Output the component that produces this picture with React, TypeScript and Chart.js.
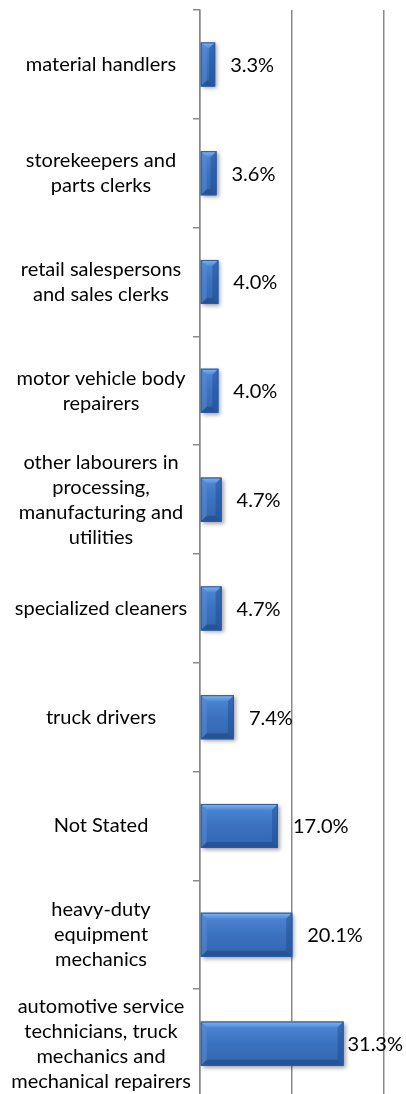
import React, { useEffect, useRef } from "react";
import { Chart, registerables } from "chart.js";

Chart.register(...registerables);

const categories: (string | string[])[] = [
  "material handlers",
  ["storekeepers and", "parts clerks"],
  ["retail salespersons", "and sales clerks"],
  ["motor vehicle body", "repairers"],
  ["other labourers in", "processing,", "manufacturing and", "utilities"],
  "specialized cleaners",
  "truck drivers",
  "Not Stated",
  ["heavy-duty", "equipment", "mechanics"],
  ["automotive service", "technicians, truck", "mechanics and", "mechanical repairers"],
];

const values: number[] = [3.3, 3.6, 4.0, 4.0, 4.7, 4.7, 7.4, 17.0, 20.1, 31.3];

const valueLabels: string[] = values.map((v) => v.toFixed(1) + "%");

const FONT_FAMILY = "Lato, 'Open Sans', sans-serif";
const FONT_SIZE = 20;
const AXIS_W = 200;
const TICK_LEN = 7;
const LABEL_CENTER = 101;

function widestLine(): number {
  const c = document.createElement("canvas");
  const ctx = c.getContext("2d")!;
  ctx.font = `${FONT_SIZE}px ${FONT_FAMILY}`;
  let w = 0;
  categories.forEach((l) => {
    (Array.isArray(l) ? l : [l]).forEach((s) => {
      w = Math.max(w, ctx.measureText(s).width);
    });
  });
  return w;
}

const shadowPlugin = {
  id: "barShadow",
  beforeDatasetsDraw(chart: any) {
    const ctx = chart.ctx;
    ctx.save();
    ctx.shadowColor = "rgba(0,0,0,0.35)";
    ctx.shadowBlur = 4;
    ctx.shadowOffsetX = 2;
    ctx.shadowOffsetY = 2;
  },
  afterDatasetsDraw(chart: any) {
    const ctx = chart.ctx;
    ctx.restore();
    const meta = chart.getDatasetMeta(0);
    meta.data.forEach((bar: any, i: number) => {
      const p = bar.getProps(["x", "y", "base", "height"], true);
      const left = Math.min(p.base, p.x);
      const right = Math.max(p.base, p.x);
      const top = p.y - p.height / 2;
      const bottom = p.y + p.height / 2;
      const b = 6;
      ctx.save();
      const g = ctx.createLinearGradient(0, top, 0, bottom);
      g.addColorStop(0, "#4f89d6");
      g.addColorStop(0.5, "#3b72c0");
      g.addColorStop(1, "#3265ad");
      ctx.fillStyle = g;
      ctx.fillRect(left, top, right - left, bottom - top);
      const gt = ctx.createLinearGradient(0, top, 0, top + b);
      gt.addColorStop(0, "#7fb6f4");
      gt.addColorStop(1, "#4f89d6");
      ctx.fillStyle = gt;
      ctx.beginPath();
      ctx.moveTo(left, top);
      ctx.lineTo(right, top);
      ctx.lineTo(right - b, top + b);
      ctx.lineTo(left + b, top + b);
      ctx.closePath();
      ctx.fill();
      ctx.fillStyle = "rgba(90,140,210,0.55)";
      ctx.beginPath();
      ctx.moveTo(left, top);
      ctx.lineTo(left + b, top + b);
      ctx.lineTo(left + b, bottom - b);
      ctx.lineTo(left, bottom);
      ctx.closePath();
      ctx.fill();
      ctx.fillStyle = "rgba(30,70,140,0.45)";
      ctx.beginPath();
      ctx.moveTo(right, top);
      ctx.lineTo(right - b, top + b);
      ctx.lineTo(right - b, bottom - b);
      ctx.lineTo(right, bottom);
      ctx.closePath();
      ctx.fill();
      ctx.fillStyle = "rgba(25,60,120,0.45)";
      ctx.beginPath();
      ctx.moveTo(left, bottom);
      ctx.lineTo(left + b, bottom - b);
      ctx.lineTo(right - b, bottom - b);
      ctx.lineTo(right, bottom);
      ctx.closePath();
      ctx.fill();
      ctx.strokeStyle = "#2d5a9a";
      ctx.lineWidth = 1;
      ctx.strokeRect(left + 0.5, top + 0.5, right - left - 1, bottom - top - 1);
      ctx.restore();

      ctx.save();
      ctx.font = `${FONT_SIZE}px ${FONT_FAMILY}`;
      ctx.fillStyle = "#000000";
      ctx.textBaseline = "middle";
      ctx.textAlign = "left";
      const txt = valueLabels[i];
      const tw = ctx.measureText(txt).width;
      const lx = Math.min(right + 15, chart.width - 3 - tw);
      ctx.fillText(txt, lx, p.y + 1);
      ctx.restore();
    });
  },
};

export default function App() {
  const ref = useRef<HTMLCanvasElement | null>(null);
  useEffect(() => {
    if (!ref.current) return;
    const widest = widestLine();
    const pad = AXIS_W - TICK_LEN - LABEL_CENTER - widest / 2;
    const chart = new Chart(ref.current, {
      type: "bar",
      data: {
        labels: categories,
        datasets: [
          {
            data: values,
            backgroundColor: "#3b72c0",
            borderWidth: 0,
            barPercentage: 1,
            categoryPercentage: 0.405,
          },
        ],
      },
      options: {
        indexAxis: "y",
        responsive: false,
        animation: false,
        devicePixelRatio: 1,
        layout: { padding: { left: 0, right: 22.5, top: 10, bottom: 2 } },
        plugins: {
          legend: { display: false },
          tooltip: { enabled: false },
        },
        scales: {
          x: {
            min: 0,
            max: 40,
            ticks: { display: false, stepSize: 20 },
            grid: { color: "#8a8a8a", lineWidth: 1.5, drawTicks: false },
            border: { display: false },
            afterFit: (s: any) => {
              s.height = 0;
              s.paddingLeft = 0;
              s.paddingRight = 0;
            },
          },
          y: {
            ticks: {
              autoSkip: false,
              crossAlign: "center",
              padding: pad,
              color: "#000000",
              font: { family: FONT_FAMILY, size: FONT_SIZE, lineHeight: 25 / FONT_SIZE },
            },
            grid: {
              drawOnChartArea: false,
              color: "#8a8a8a",
              lineWidth: 1.5,
              tickLength: TICK_LEN,
              offset: true,
            },
            border: { display: true, color: "#8a8a8a", width: 1.5 },
            afterFit: (s: any) => {
              s.width = AXIS_W;
              s.paddingTop = 0;
              s.paddingBottom = 0;
            },
          },
        },
      },
      plugins: [shadowPlugin],
    });
    return () => chart.destroy();
  }, []);
  return (
    <div
      style={{
        position: "absolute",
        left: 0,
        top: 0,
        width: 406,
        height: 1094,
        overflow: "hidden",
        background: "#ffffff",
      }}
    >
      <canvas ref={ref} width={406} height={1100} style={{ width: 406, height: 1100, display: "block" }} />
    </div>
  );
}
